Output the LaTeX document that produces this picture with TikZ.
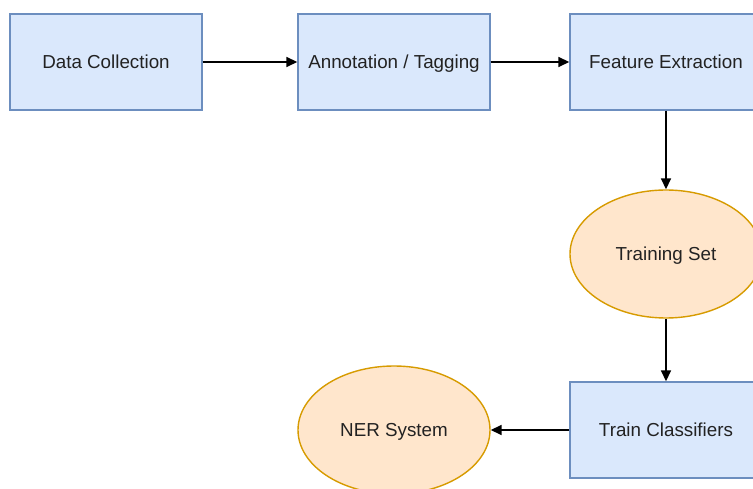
\documentclass[tikz,border=0pt]{standalone}
\usepackage{fontspec}
\setmainfont{Liberation Sans}
\usetikzlibrary{shapes.geometric,arrows.meta}
\definecolor{boxfill}{HTML}{DAE8FC}
\definecolor{boxline}{HTML}{6C8EBF}
\definecolor{ovalfill}{HTML}{FFE6CC}
\definecolor{ovalline}{HTML}{D79B00}
\definecolor{ink}{HTML}{222222}
\tikzset{
  label text/.style={text=ink, font=\fontsize{18.8}{22}\selectfont, text height=13.6pt, text depth=0pt},
  stagebox/.style={draw=boxline, fill=boxfill, line width=1.4pt, minimum width=192pt, minimum height=96pt, inner sep=0pt, label text},
  dataoval/.style={ellipse, draw=ovalline, fill=ovalfill, line width=1.4pt, minimum width=192pt, minimum height=128pt, inner sep=0pt, label text},
  flow/.style={-{Triangle[length=11pt,width=10pt]}, line width=1.6pt, black}
}
\begin{document}
\begin{tikzpicture}[x=1pt,y=-1pt]
  \useasboundingbox (0,0) rectangle (753,489);
  \clip (0,0) rectangle (753,489);
  \fill[white] (0,0) rectangle (753,489);
  \node[stagebox] (collect) at (106,62) {Data Collection};
  \node[stagebox] (annot) at (394,62) {Annotation / Tagging};
  \node[stagebox] (feat) at (666,62) {Feature Extraction};
  \node[dataoval] (trainset) at (666,254) {Training Set};
  \node[stagebox] (classify) at (666,430) {Train Classifiers};
  \node[dataoval] (ner) at (394,430) {NER System};
  \draw[flow] (collect) -- (annot);
  \draw[flow] (annot) -- (feat);
  \draw[flow] (feat) -- (trainset);
  \draw[flow] (trainset) -- (classify);
  \draw[flow] (classify) -- (ner);
\end{tikzpicture}
\end{document}
